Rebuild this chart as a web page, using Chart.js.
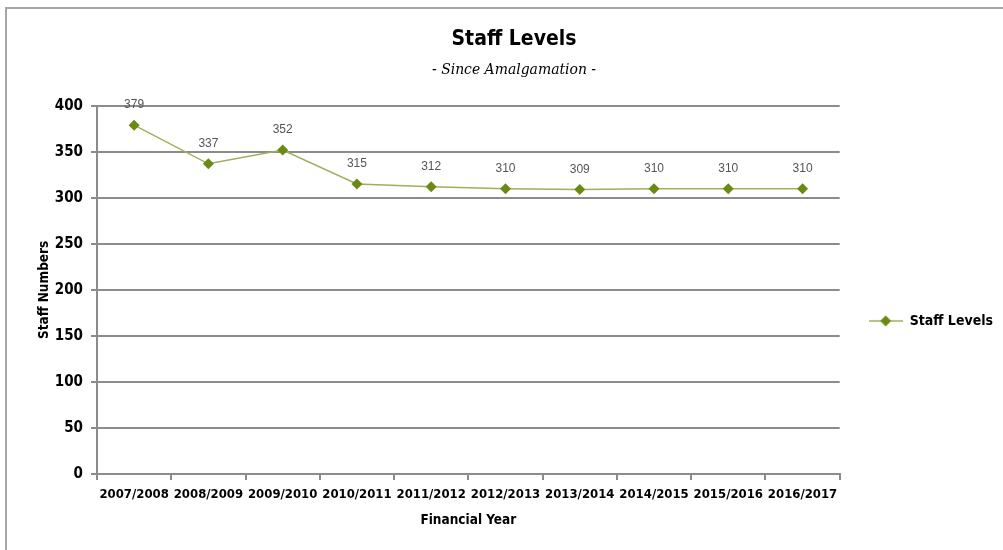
<!DOCTYPE html>
<html>
<head>
<meta charset="utf-8">
<script src="https://cdn.jsdelivr.net/npm/chart.js@4"></script>
<style>
  html, body { margin: 0; padding: 0; background: #fff; }
  #wrap { position: relative; width: 1003px; height: 550px; overflow: hidden; }
  #frame { position: absolute; left: 5px; top: 7px; width: 1100px; height: 700px;
           border: 2px solid #a6a6a6; box-sizing: border-box; }
  canvas { position: absolute; left: 0; top: 0; }
</style>
</head>
<body>
<div id="wrap">
  <div id="frame"></div>
  <canvas id="staffChart" width="1003" height="550"></canvas>
</div>
<script>
const years = ['2007/2008', '2008/2009', '2009/2010', '2010/2011', '2011/2012',
               '2012/2013', '2013/2014', '2014/2015', '2015/2016', '2016/2017'];
const staffLevels = [379, 337, 352, 315, 312, 310, 309, 310, 310, 310];
const yTicks = [0, 50, 100, 150, 200, 250, 300, 350, 400];

const narrow = "'Liberation Sans Narrow', 'DejaVu Sans Condensed', Arial, sans-serif";
const markerColor = '#6b8a13';
const lineColor = '#a3ad5a';
const gridColor = '#8c8c8c';

// legend key: short line with a diamond on it
const legendKey = document.createElement('canvas');
legendKey.width = 34;
legendKey.height = 12;
(function () {
    const g = legendKey.getContext('2d');
    g.strokeStyle = lineColor;
    g.lineWidth = 1.5;
    g.beginPath();
    g.moveTo(0, 6);
    g.lineTo(34, 6);
    g.stroke();
    g.fillStyle = markerColor;
    g.beginPath();
    g.moveTo(17, 0.5);
    g.lineTo(22.5, 6);
    g.lineTo(17, 11.5);
    g.lineTo(11.5, 6);
    g.closePath();
    g.fill();
})();

// value labels above each point
const valueLabels = {
    id: 'valueLabels',
    afterDatasetsDraw(chart) {
        const ctx = chart.ctx;
        const meta = chart.getDatasetMeta(0);
        ctx.save();
        ctx.font = "12px 'Liberation Sans', Arial, sans-serif";
        ctx.fillStyle = '#555';
        ctx.textAlign = 'center';
        ctx.textBaseline = 'middle';
        meta.data.forEach((pt, i) => {
            ctx.fillText(String(staffLevels[i]), pt.x, pt.y - 20);
        });
        ctx.restore();
    }
};

new Chart(document.getElementById('staffChart'), {
    type: 'line',
    data: {
        labels: years,
        datasets: [{
            label: 'Staff Levels',
            data: staffLevels,
            borderColor: lineColor,
            borderWidth: 1.5,
            pointStyle: 'rectRot',
            pointRadius: 5.5,
            pointBackgroundColor: markerColor,
            pointBorderColor: markerColor,
            pointBorderWidth: 0,
            tension: 0
        }]
    },
    options: {
        responsive: false,
        animation: false,
        layout: { padding: { left: 25, right: 0, top: 12, bottom: 10 } },
        plugins: {
            title: {
                display: true,
                text: 'Staff Levels',
                color: '#000',
                font: { family: narrow, size: 21, weight: 'bold' },
                padding: { top: 15, bottom: 0 }
            },
            subtitle: {
                display: true,
                text: '- Since Amalgamation -',
                color: '#000',
                font: { family: "'DejaVu Serif Condensed', 'Liberation Serif', serif", size: 15.5, style: 'italic' },
                padding: { top: 8, bottom: 27 }
            },
            legend: {
                position: 'right',
                title: {
                    display: true,
                    text: ' ',
                    font: { size: 14 },
                    padding: { top: 73, bottom: 0 }
                },
                labels: {
                    usePointStyle: true,
                    pointStyleWidth: 34,
                    padding: 29,
                    color: '#000',
                    font: { family: narrow, size: 14, weight: 'bold' },
                    generateLabels: (chart) => [{
                        text: 'Staff Levels',
                        fontColor: '#000',
                        pointStyle: legendKey,
                        fillStyle: markerColor,
                        strokeStyle: markerColor,
                        lineWidth: 0,
                        hidden: false,
                        datasetIndex: 0
                    }]
                }
            },
            tooltip: { enabled: false }
        },
        scales: {
            x: {
                offset: true,
                afterFit: (scale) => { scale.height = 66; },
                grid: {
                    display: true,
                    drawOnChartArea: false,
                    offset: true,
                    color: gridColor,
                    lineWidth: 2,
                    tickLength: 6
                },
                border: { color: gridColor, width: 2 },
                ticks: {
                    color: '#000',
                    padding: 7,
                    maxRotation: 0,
                    autoSkip: false,
                    font: { family: narrow, size: 13, weight: 'bold' }
                },
                title: {
                    display: true,
                    text: 'Financial Year',
                    color: '#000',
                    font: { family: narrow, size: 13.5, weight: 'bold' },
                    padding: { top: 0, bottom: 11 }
                }
            },
            y: {
                min: 0,
                max: 400,
                afterFit: (scale) => { scale.width = 72; },
                afterBuildTicks: (scale) => { scale.ticks = yTicks.map(v => ({ value: v })); },
                grid: {
                    color: gridColor,
                    lineWidth: 2,
                    tickLength: 6
                },
                border: { color: gridColor, width: 2 },
                ticks: {
                    color: '#000',
                    padding: 8,
                    font: { family: narrow, size: 15, weight: 'bold' }
                },
                title: {
                    display: true,
                    text: 'Staff Numbers',
                    color: '#000',
                    font: { family: narrow, size: 13.5, weight: 'bold' },
                    padding: { top: 11, bottom: 0 }
                }
            }
        }
    },
    plugins: [valueLabels]
});
</script>
</body>
</html>
